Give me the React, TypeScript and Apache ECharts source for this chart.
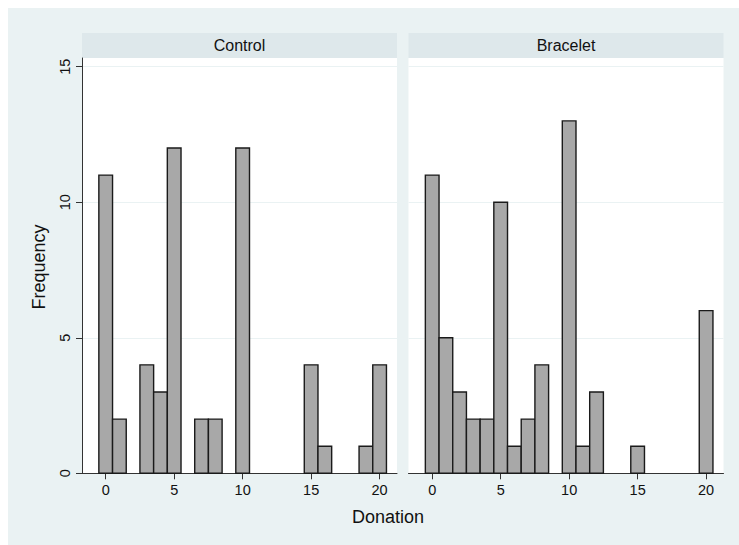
import React, { useEffect, useRef } from "react";
import * as echarts from "echarts";

const panels = ["Control", "Bracelet"];
const controlDonation = [0, 1, 3, 4, 5, 7, 8, 10, 15, 16, 19, 20];
const controlFreq = [11, 2, 4, 3, 12, 2, 2, 12, 4, 1, 1, 4];
const braceletDonation = [0, 1, 2, 3, 4, 5, 6, 7, 8, 10, 11, 12, 15, 20];
const braceletFreq = [11, 5, 3, 2, 2, 10, 1, 2, 4, 13, 1, 3, 1, 6];
const xTicks = [0, 5, 10, 15, 20];
const yTicks = [0, 5, 10, 15];

const FONT = "'Liberation Sans', Arial, Helvetica, sans-serif";

export default function App() {
  const ref = useRef<HTMLDivElement>(null);
  useEffect(() => {
    if (!ref.current) return;
    const chart = echarts.init(ref.current, null, { renderer: "svg" });
    const gridW = 315;
    const grids = [
      { left: 74, top: 50, width: gridW, height: 415.3 },
      { left: 400.5, top: 50, width: gridW, height: 415.3 },
    ];
    const renderItem = (params: any, api: any) => {
      const x = api.value(0);
      const y = api.value(1);
      const p0 = api.coord([x - 0.5, 0]);
      const p1 = api.coord([x + 0.5, y]);
      return {
        type: "rect",
        shape: { x: p0[0], y: p1[1], width: p1[0] - p0[0], height: p0[1] - p1[1] },
        style: { fill: "#A8A8A8", stroke: "#1a1a1a", lineWidth: 1.4 },
      };
    };
    const mk = (xs: number[], ys: number[]) => xs.map((x, i) => [x, ys[i]]);
    const xAxis = (i: number) => ({
      type: "value",
      gridIndex: i,
      min: -1.73,
      max: 21.27,
      axisLine: { show: true, onZero: false, lineStyle: { color: "#333", width: 1 } },
      axisTick: { show: true, length: 6, customValues: xTicks, lineStyle: { color: "#333" } },
      axisLabel: { customValues: xTicks, margin: 9, fontSize: 14.5, color: "#111", fontFamily: FONT },
      splitLine: { show: false },
    });
    const yAxis = (i: number) => ({
      type: "value",
      gridIndex: i,
      min: 0,
      max: 15.32,
      interval: 5,
      axisLine: { show: i === 0, onZero: false, lineStyle: { color: "#333", width: 1 } },
      axisTick: { show: i === 0, length: 6, customValues: yTicks, lineStyle: { color: "#333" } },
      axisLabel: {
        show: i === 0,
        customValues: yTicks,
        rotate: 90,
        margin: 10,
        fontSize: 14.5,
        color: "#111",
        fontFamily: FONT,
      },
      splitLine: { show: true, lineStyle: { color: "#EAF2F3", width: 1 } },
    });
    chart.setOption({
      animation: false,
      backgroundColor: "#EAF2F3",
      grid: grids.map((g) => ({ ...g, show: true, backgroundColor: "#ffffff", borderWidth: 0 })),
      xAxis: [xAxis(0), xAxis(1)],
      yAxis: [yAxis(0), yAxis(1)],
      series: [
        { type: "custom", xAxisIndex: 0, yAxisIndex: 0, data: mk(controlDonation, controlFreq), renderItem, encode: { x: 0, y: 1 } },
        { type: "custom", xAxisIndex: 1, yAxisIndex: 1, data: mk(braceletDonation, braceletFreq), renderItem, encode: { x: 0, y: 1 } },
      ],
      graphic: [
        ...grids.map((g, i) => ({
          type: "group",
          children: [
            { type: "rect", shape: { x: g.left, y: 25, width: gridW, height: 25 }, style: { fill: "#DEE8EB" } },
            {
              type: "text",
              x: g.left + gridW / 2,
              y: 37.5,
              style: { text: panels[i], fontSize: 16, fontFamily: FONT, fill: "#111", textAlign: "center", textVerticalAlign: "middle" },
            },
          ],
        })),
        {
          type: "text",
          x: 31,
          y: 259,
          rotation: Math.PI / 2,
          style: { text: "Frequency", fontSize: 18, fontFamily: FONT, fill: "#111", textAlign: "center", textVerticalAlign: "middle" },
        },
        {
          type: "text",
          x: 380,
          y: 509,
          style: { text: "Donation", fontSize: 18, fontFamily: FONT, fill: "#111", textAlign: "center", textVerticalAlign: "middle" },
        },
      ],
    });
    return () => chart.dispose();
  }, []);
  return (
    <div
      ref={ref}
      style={{ position: "fixed", left: 8, top: 8, width: 731, height: 537 }}
    />
  );
}
